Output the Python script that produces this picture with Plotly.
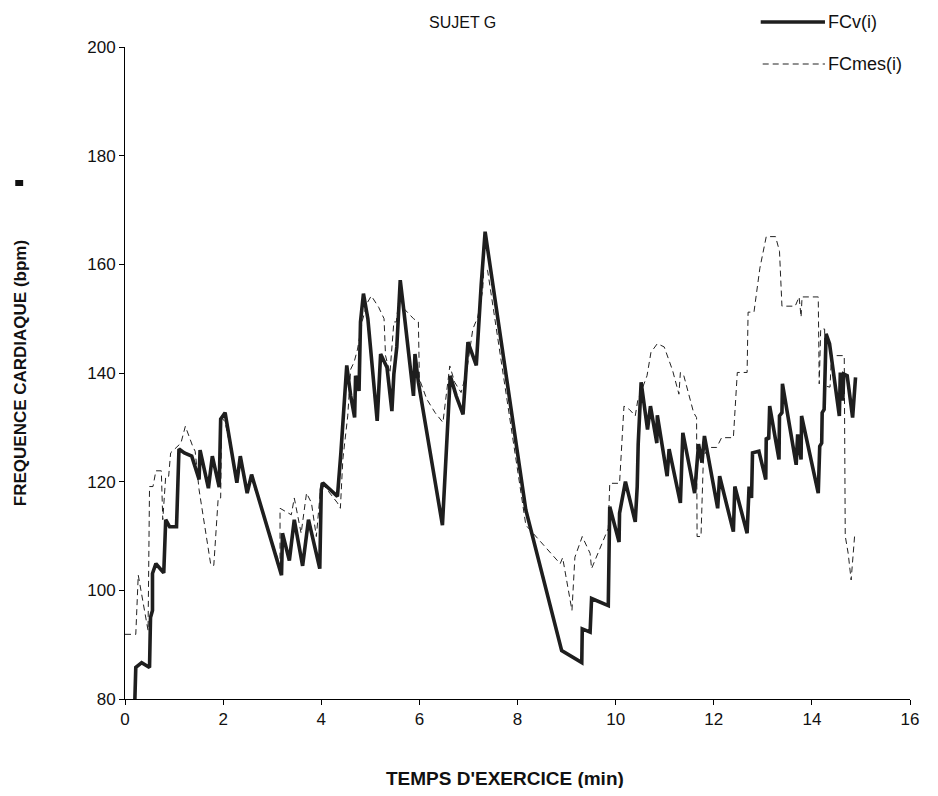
import plotly.graph_objects as go

# FCv(i) - solid series (time in min, heart rate in bpm)
fcv_t = [0.20, 0.22, 0.34, 0.50, 0.52, 0.56, 0.56, 0.63, 0.79, 0.83, 0.91, 1.05, 1.10, 1.21, 1.36,
         1.51, 1.53, 1.70, 1.78, 1.92, 1.95, 2.04, 2.28, 2.35, 2.49, 2.58, 3.19, 3.21, 3.35, 3.45,
         3.62, 3.74, 3.97, 4.00, 4.03, 4.33, 4.40, 4.44, 4.48, 4.52, 4.60, 4.68, 4.70, 4.77, 4.80,
         4.86, 4.95, 5.14, 5.21, 5.34, 5.44, 5.48, 5.54, 5.61, 5.67, 5.88, 5.91, 5.98, 6.47, 6.52,
         6.55, 6.59, 6.63, 6.75, 6.89, 6.99, 7.16, 7.26, 7.30, 7.34, 8.17, 8.90, 9.31, 9.32, 9.48,
         9.51, 9.85, 9.86, 9.88, 10.07, 10.08, 10.20, 10.40, 10.44, 10.46, 10.52, 10.65, 10.71, 10.84,
         10.85, 11.05, 11.09, 11.32, 11.37, 11.61, 11.69, 11.76, 11.81, 12.08, 12.12, 12.40, 12.43,
         12.68, 12.72, 12.77, 12.79, 12.92, 13.06, 13.07, 13.12, 13.14, 13.33, 13.34, 13.39, 13.40,
         13.68, 13.71, 13.78, 13.79, 14.13, 14.16, 14.20, 14.21, 14.25, 14.29, 14.36, 14.56, 14.58,
         14.63, 14.65, 14.72, 14.83, 14.89]
fcv_v = [79.5, 85.8, 86.7, 85.8, 95.0, 96.3, 103.1, 104.9, 103.2, 113.0, 111.7, 111.7, 126.0, 125.3, 124.7,
         120.4, 125.8, 118.8, 124.7, 119.0, 131.5, 132.7, 119.8, 124.7, 117.9, 121.3, 102.8, 110.5, 105.5, 113.0,
         104.5, 113.0, 104.0, 118.5, 119.8, 117.3, 125.3, 130.2, 135.8, 141.4, 135.8, 131.8, 139.5, 136.7, 149.4,
         154.6, 150.0, 131.2, 143.5, 141.0, 133.0, 139.8, 144.8, 157.1, 152.5, 135.8, 143.5, 138.3, 112.0, 120.0,
         126.5, 133.9, 139.5, 135.8, 132.4, 145.7, 141.4, 156.2, 161.1, 166.0, 114.8, 88.9, 86.7, 92.9, 92.3,
         98.5, 97.2, 107.1, 115.4, 108.9, 114.2, 120.0, 112.6, 119.1, 126.9, 138.3, 129.6, 133.9, 127.1,
         132.2, 121.0, 126.0, 116.1, 129.0, 117.9, 126.9, 123.5, 128.4, 115.1, 121.0, 110.8, 119.1,
         110.5, 119.1, 117.0, 125.3, 125.6, 120.4, 128.1, 127.8, 133.9, 124.1, 132.1, 132.7, 138.0,
         123.1, 128.7, 124.1, 132.1, 117.9, 126.5, 127.1, 132.7, 133.3, 147.2, 145.4, 132.1, 140.1,
         134.9, 139.8, 139.5, 131.8, 139.2]

# FCmes(i) - dashed series
fcm_t = [0.00, 0.22, 0.27, 0.47, 0.50, 0.57, 0.63, 0.74, 0.77, 0.83, 0.89, 0.93, 1.14, 1.23, 1.38,
         1.43, 1.51, 1.75, 1.81, 1.90, 1.95, 1.97, 2.04, 2.28, 2.35, 2.49, 2.58, 3.16, 3.16, 3.39,
         3.45, 3.59, 3.70, 3.80, 3.90, 4.00, 4.07, 4.33, 4.39, 4.44, 4.54, 4.60, 4.67, 4.74, 4.84,
         4.93, 5.02, 5.17, 5.28, 5.31, 5.40, 5.48, 5.53, 5.60, 5.67, 5.78, 5.88, 5.98, 6.00, 6.15,
         6.32, 6.48, 6.55, 6.62, 6.72, 6.85, 6.96, 7.09, 7.19, 7.29, 7.31, 7.39, 8.17, 8.87, 8.92,
         9.00, 9.11, 9.17, 9.32, 9.48, 9.51, 9.85, 9.88, 10.08, 10.17, 10.28, 10.40, 10.45, 10.64,
         10.72, 10.85, 10.99, 11.16, 11.29, 11.32, 11.39, 11.59, 11.65, 11.66, 11.74, 11.79, 11.90,
         12.06, 12.16, 12.40, 12.48, 12.68, 12.70, 12.82, 12.94, 13.07, 13.26, 13.34, 13.39, 13.66,
         13.74, 13.78, 13.80, 14.13, 14.15, 14.18, 14.26, 14.27, 14.37, 14.40, 14.66, 14.68, 14.74,
         14.80, 14.87]
fcm_v = [91.9, 91.9, 102.8, 92.6, 119.1, 119.1, 122.0, 122.0, 113.0, 121.0, 121.0, 125.3, 127.1, 130.2, 126.5,
         125.6, 118.5, 104.6, 104.6, 117.0, 117.0, 131.8, 131.0, 120.5, 123.5, 118.5, 120.5, 104.5, 115.1, 113.9,
         117.0, 110.5, 117.9, 116.1, 109.9, 120.1, 119.1, 116.1, 115.1, 124.1, 132.1, 140.7, 142.0, 144.4, 149.7,
         152.8, 154.2, 152.1, 150.0, 143.2, 140.0, 149.4, 149.4, 155.0, 152.0, 150.9, 150.0, 149.4, 138.9, 135.2,
         132.7, 130.9, 136.4, 141.3, 138.3, 136.4, 140.1, 148.1, 150.3, 155.2, 158.6, 158.9, 112.0, 104.9, 106.0,
         101.9, 96.3, 106.1, 109.9, 106.8, 104.0, 111.4, 119.7, 119.7, 133.9, 133.3, 132.1, 134.9, 139.5,
         143.8, 145.4, 144.8, 140.5, 136.1, 140.1, 139.5, 132.7, 131.8, 109.9, 109.9, 124.7, 126.3,
         126.3, 128.1, 128.1, 140.1, 140.1, 151.2, 151.2, 159.3, 165.1, 165.1, 162.4, 152.3, 152.3,
         154.0, 150.3, 154.0, 154.0, 138.0, 148.1, 148.1, 137.6, 137.4, 143.2, 143.2, 110.0, 106.8,
         101.9, 109.9]

x_ticks = [0, 2, 4, 6, 8, 10, 12, 14, 16]
y_ticks = [80, 100, 120, 140, 160, 180, 200]

FONT = "Liberation Sans, Arial, sans-serif"

fig = go.Figure()
fig.add_trace(go.Scatter(x=fcm_t, y=fcm_v, mode="lines", name="FCmes(i)",
                         line=dict(color="#222222", width=1, dash="6px,4px")))
fig.add_trace(go.Scatter(x=fcv_t, y=fcv_v, mode="lines", name="FCv(i)",
                         line=dict(color="#1e1e1e", width=3.6)))

# page body has an 8px margin: figure coords = screenshot coords - 8
OFF = 8
W, H = 922, 780
L, T = 125 - OFF, 47 - OFF
R = W - (919 - OFF)
B = H - (699 - OFF)
pw, ph = W - L - R, H - T - B

def px2paper(sx, sy):
    fx, fy = sx - OFF, sy - OFF
    return (fx - L) / pw, (H - B - fy) / ph

fig.update_layout(
    width=W, height=H,
    margin=dict(l=L, r=R, t=T, b=B),
    paper_bgcolor="white", plot_bgcolor="white",
    showlegend=False,
    font=dict(family=FONT, size=17, color="#111111"),
    xaxis=dict(range=[0, 16], tickvals=x_ticks, ticks="outside", ticklen=5, tickcolor="black",
               showline=True, linecolor="black", linewidth=1, showgrid=False, zeroline=False,
               tickfont=dict(size=17)),
    yaxis=dict(range=[80, 200], tickvals=y_ticks, ticks="outside", ticklen=5, tickcolor="black",
               showline=True, linecolor="black", linewidth=1, showgrid=False, zeroline=False,
               tickfont=dict(size=17)),
)

ann = []
tx, ty = px2paper(466, 22)
ann.append(dict(x=tx, y=ty, xref="paper", yref="paper", text="SUJET G", showarrow=False,
                font=dict(size=16, family=FONT), xanchor="center", yanchor="middle"))
tx, ty = px2paper(509, 778)
ann.append(dict(x=tx, y=ty, xref="paper", yref="paper", text="<b>TEMPS D'EXERCICE (min)</b>",
                showarrow=False, font=dict(size=19, family=FONT), xanchor="center", yanchor="middle"))
tx, ty = px2paper(19, 373)
ann.append(dict(x=tx, y=ty, xref="paper", yref="paper", text="<b>FREQUENCE CARDIAQUE (bpm)</b>",
                showarrow=False, textangle=-90, font=dict(size=17, family=FONT),
                xanchor="center", yanchor="middle"))
for label, py in [("FCv(i)", 22), ("FCmes(i)", 64)]:
    tx, ty = px2paper(834, py)
    ann.append(dict(x=tx, y=ty, xref="paper", yref="paper", text=label, showarrow=False,
                    font=dict(size=18, family=FONT), xanchor="left", yanchor="middle"))
fig.update_layout(annotations=ann)

shapes = []
x0, y0 = px2paper(768, 22)
x1, _ = px2paper(833, 22)
shapes.append(dict(type="line", xref="paper", yref="paper", x0=x0, x1=x1, y0=y0, y1=y0,
                   line=dict(color="#1e1e1e", width=3.6)))
x0, y0 = px2paper(770, 64)
x1, _ = px2paper(833, 64)
shapes.append(dict(type="line", xref="paper", yref="paper", x0=x0, x1=x1, y0=y0, y1=y0,
                   line=dict(color="#222222", width=1, dash="6px,4px")))
rx0, ry0 = px2paper(14, 180)
rx1, ry1 = px2paper(22, 186)
shapes.append(dict(type="rect", xref="paper", yref="paper", x0=rx0, x1=rx1, y0=ry1, y1=ry0,
                   fillcolor="#111111", line=dict(width=0)))
fig.update_layout(shapes=shapes)

fig.write_html("out.html")
